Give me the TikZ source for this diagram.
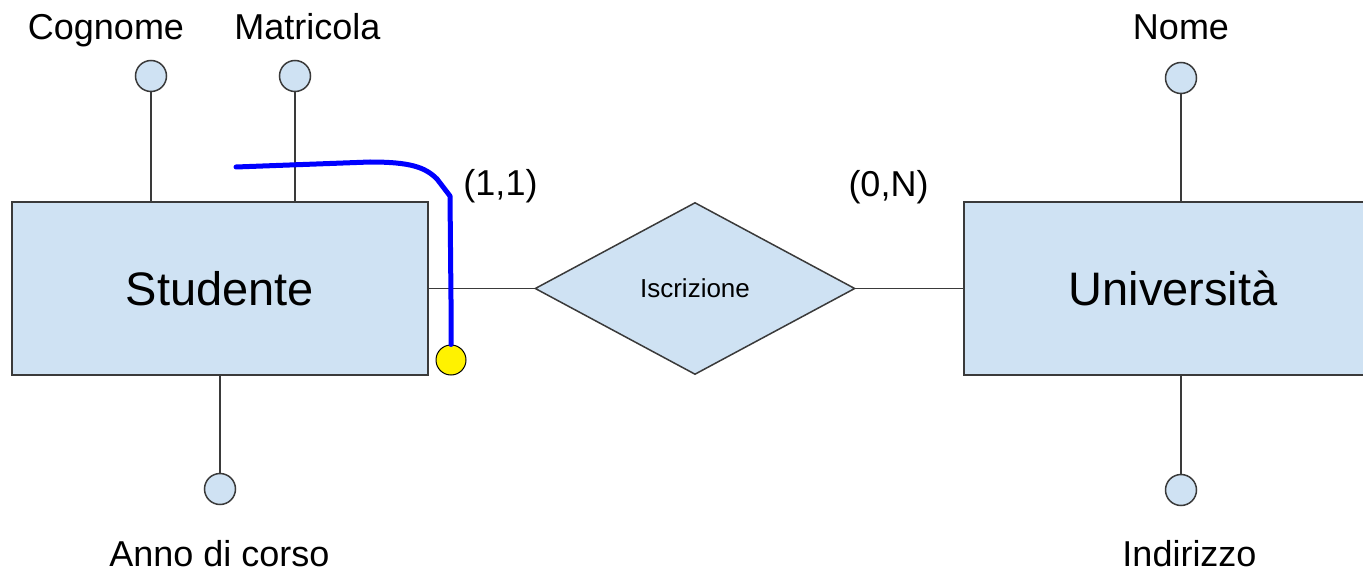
\documentclass[tikz,border=0pt]{standalone}
\usepackage{fontspec}
\setmainfont{Liberation Sans}
\usetikzlibrary{shapes.geometric}
\definecolor{erfill}{HTML}{CFE2F3}
\definecolor{erline}{HTML}{3A3A3A}
\begin{document}
\begin{tikzpicture}[x=1pt,y=-1pt,
  entitybox/.style={draw=erline,fill=erfill,line width=1.6pt,inner sep=0pt,
    font=\fontsize{47}{52}\selectfont},
  relbox/.style={diamond,draw=erline,fill=erfill,line width=1.5pt,inner sep=0pt,
    minimum width=320pt,minimum height=172pt,font=\fontsize{26}{30}\selectfont},
  attrdot/.style={circle,draw=erline,fill=erfill,line width=1.5pt,inner sep=0pt,minimum size=31pt},
  conn/.style={draw=erline,line width=1.6pt},
  lbl/.style={anchor=base,inner sep=0pt,font=\fontsize{36}{40}\selectfont},
  bluestroke/.style={draw={rgb,255:red,0;green,0;blue,255},line width=5pt,line cap=round,line join=round},
  yeldot/.style={circle,draw=black,fill=yellow,line width=1pt,inner sep=0pt,minimum size=30pt}]
\useasboundingbox (0,0) rectangle (1363,572);
% entities
\node[entitybox,minimum width=416pt,minimum height=173pt] (stud) at (220,288.5) {Studente};
\node[entitybox,minimum width=418pt,minimum height=173pt] (univ) at (1173,288.5) {Università};
% relationship
\node[relbox] (iscr) at (695,288.5) {Iscrizione};
\draw[conn] (stud.east) -- (iscr.west);
\draw[conn] (iscr.east) -- (univ.west);
% attributes
\node[attrdot] (cog) at (151,76) {};
\node[attrdot] (mat) at (295,76) {};
\node[attrdot] (anno) at (220,489) {};
\node[attrdot] (nome) at (1181,78) {};
\node[attrdot] (ind) at (1181,490) {};
\draw[conn] (cog) -- (cog |- stud.north);
\draw[conn] (mat) -- (mat |- stud.north);
\draw[conn] (anno) -- (anno |- stud.south);
\draw[conn] (nome) -- (nome |- univ.north);
\draw[conn] (ind) -- (ind |- univ.south);
% labels
\node[lbl] (lcog) at (106,40) {Cognome};
\node[lbl] (lmat) at (307.5,40) {Matricola};
\node[lbl] (lnome) at (1181,40) {Nome};
\node[lbl] (lanno) at (219.5,566) {Anno di corso};
\node[lbl] (lind) at (1189.5,566) {Indirizzo};
\node[lbl] (card1) at (500.5,196) {(1,1)};
\node[lbl] (card2) at (888.5,197) {(0,N)};
% blue hand-drawn mark
\node[yeldot] (yel) at (451,360) {};
\coordinate (bstart) at (236,167);
\draw[bluestroke] (bstart) -- (370,162) .. controls (410,162) and (425,167) .. (437,179)
  -- (450,196) -- (451,300) -- (yel.north);
\end{tikzpicture}
\end{document}
